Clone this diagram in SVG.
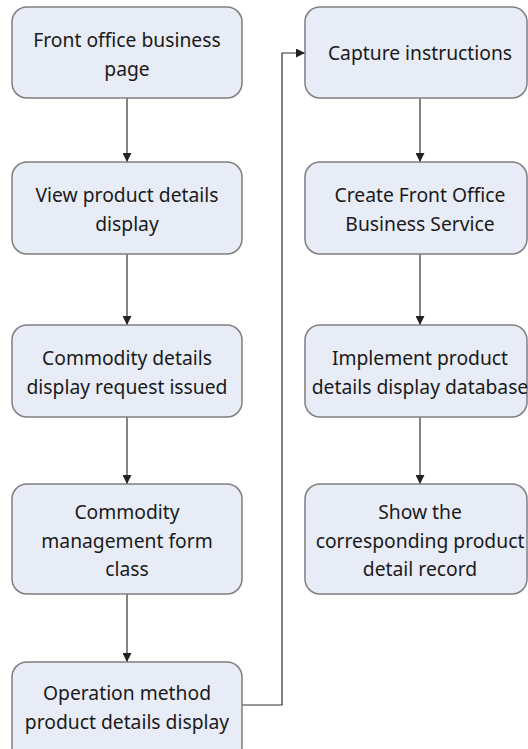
<svg xmlns="http://www.w3.org/2000/svg" width="528" height="749" viewBox="0 0 528 749">
  <style>
    .box { fill: #e8ecf7; stroke: #7f7f7f; stroke-width: 1.5; }
    .lbl { font-family: "Noto Sans", "Open Sans", sans-serif; font-size: 19.3px; fill: #1a1a1a; text-anchor: middle; }
    .wire { fill: none; stroke: #333333; stroke-width: 1.2; }
  </style>
  <defs>
    <marker id="arr" viewBox="0 0 10 10" refX="10" refY="5" markerWidth="9" markerHeight="9" markerUnits="userSpaceOnUse" orient="auto">
      <path d="M0,0 L10,5 L0,10 z" fill="#222222"/>
    </marker>
  </defs>
  <rect width="528" height="749" fill="#ffffff"/>

  <g id="connectors">
    <line class="wire" x1="127" y1="98" x2="127" y2="162" marker-end="url(#arr)"/>
    <line class="wire" x1="127" y1="254" x2="127" y2="325" marker-end="url(#arr)"/>
    <line class="wire" x1="127" y1="417" x2="127" y2="484" marker-end="url(#arr)"/>
    <line class="wire" x1="127" y1="594" x2="127" y2="662" marker-end="url(#arr)"/>
    <polyline class="wire" points="242,705 282,705 282,53 305,53" marker-end="url(#arr)"/>
    <line class="wire" x1="420" y1="98" x2="420" y2="162" marker-end="url(#arr)"/>
    <line class="wire" x1="420" y1="254" x2="420" y2="325" marker-end="url(#arr)"/>
    <line class="wire" x1="420" y1="417" x2="420" y2="484" marker-end="url(#arr)"/>
  </g>

  <g id="front-office-page">
    <rect class="box" x="12" y="7" width="230" height="91" rx="15"/>
    <text class="lbl" x="127" y="47">Front office business</text>
    <text class="lbl" x="127" y="76">page</text>
  </g>
  <g id="view-product-details">
    <rect class="box" x="12" y="162" width="230" height="92" rx="15"/>
    <text class="lbl" x="127" y="202">View product details</text>
    <text class="lbl" x="127" y="231">display</text>
  </g>
  <g id="display-request">
    <rect class="box" x="12" y="325" width="230" height="92" rx="15"/>
    <text class="lbl" x="127" y="365">Commodity details</text>
    <text class="lbl" x="127" y="394">display request issued</text>
  </g>
  <g id="management-form">
    <rect class="box" x="12" y="484" width="230" height="110" rx="15"/>
    <text class="lbl" x="127" y="519">Commodity</text>
    <text class="lbl" x="127" y="548">management form</text>
    <text class="lbl" x="127" y="576">class</text>
  </g>
  <g id="operation-method">
    <rect class="box" x="12" y="662" width="230" height="100" rx="15"/>
    <text class="lbl" x="127" y="700">Operation method</text>
    <text class="lbl" x="127" y="729">product details display</text>
  </g>

  <g id="capture-instructions">
    <rect class="box" x="305" y="7" width="222" height="91" rx="15"/>
    <text class="lbl" x="420" y="60">Capture instructions</text>
  </g>
  <g id="front-office-service">
    <rect class="box" x="305" y="162" width="222" height="92" rx="15"/>
    <text class="lbl" x="420" y="202">Create Front Office</text>
    <text class="lbl" x="420" y="231">Business Service</text>
  </g>
  <g id="display-database">
    <rect class="box" x="305" y="325" width="222" height="92" rx="15"/>
    <text class="lbl" x="420" y="365">Implement product</text>
    <text class="lbl" x="420" y="394">details display database</text>
  </g>
  <g id="detail-record">
    <rect class="box" x="305" y="484" width="222" height="110" rx="15"/>
    <text class="lbl" x="420" y="519">Show the</text>
    <text class="lbl" x="420" y="548">corresponding product</text>
    <text class="lbl" x="420" y="576">detail record</text>
  </g>
</svg>
